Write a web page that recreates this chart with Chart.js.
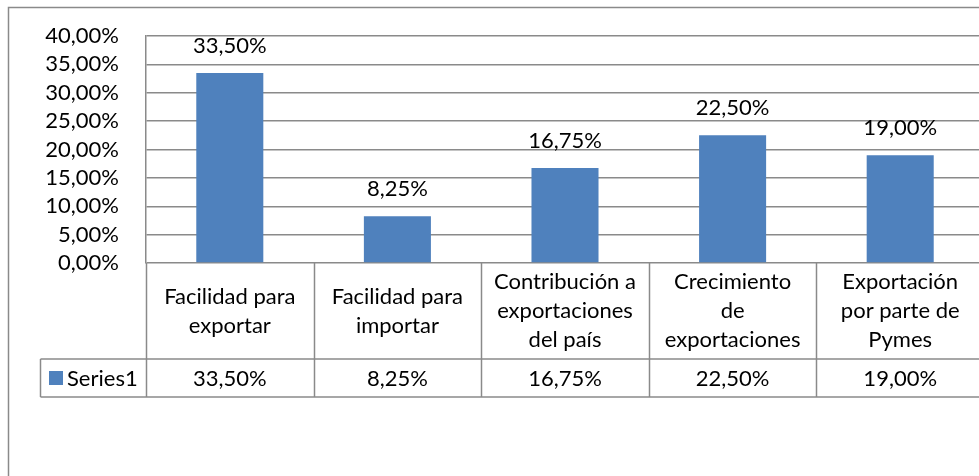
<!DOCTYPE html>
<html>
<head>
<meta charset="utf-8">
<script src="https://cdn.jsdelivr.net/npm/chart.js@4/dist/chart.umd.min.js"></script>
<style>
  html, body { margin: 0; padding: 0; background: #fff; overflow: hidden; width: 979px; height: 476px; }
  #wrap { width: 1000px; height: 476px; }
</style>
</head>
<body>
<div id="wrap"><canvas id="c" width="1000" height="476"></canvas></div>
<script>
const categories = [
  ["Facilidad para", "exportar"],
  ["Facilidad para", "importar"],
  ["Contribución a", "exportaciones", "del país"],
  ["Crecimiento", "de", "exportaciones"],
  ["Exportación", "por parte de", "Pymes"]
];
const seriesName = "Series1";
const series1 = [33.50, 8.25, 16.75, 22.50, 19.00];
const yTicks = [0, 5, 10, 15, 20, 25, 30, 35, 40];

const FONT = "Lato, 'Open Sans', sans-serif";
const FSIZE = 22;
const LINE = "#8a8a8a";
const BAR = "#4F81BD";
const fmt = v => v.toFixed(2).replace('.', ',') + '%';

const tablePlugin = {
  id: 'tablePlugin',
  afterDraw(chart) {
    const ctx = chart.ctx;
    const xs = chart.scales.x;
    const area = chart.chartArea;
    const n = categories.length;
    const step = (area.right - area.left) / n;
    const top = area.bottom;
    const headBottom = top + 96;
    const rowBottom = headBottom + 38;
    const legLeft = 40.5;
    ctx.save();
    ctx.strokeStyle = LINE;
    ctx.lineWidth = 1.5;
    ctx.beginPath();
    ctx.moveTo(8.5, 480); ctx.lineTo(8.5, 7.5); ctx.lineTo(1000, 7.5);
    ctx.stroke();
    ctx.beginPath();
    ctx.moveTo(legLeft, headBottom); ctx.lineTo(area.right + 20, headBottom);
    ctx.moveTo(legLeft, rowBottom); ctx.lineTo(area.right + 20, rowBottom);
    ctx.moveTo(legLeft, headBottom); ctx.lineTo(legLeft, rowBottom);
    for (let i = 0; i <= n; i++) {
      const x = Math.round(area.left + i * step) + 0.5;
      ctx.moveTo(x, top); ctx.lineTo(x, rowBottom);
    }
    ctx.stroke();
    ctx.fillStyle = '#000';
    ctx.font = FSIZE + 'px ' + FONT;
    ctx.textAlign = 'center';
    ctx.textBaseline = 'middle';
    const lh = 29;
    const headMid = (top + headBottom) / 2;
    categories.forEach((lines, i) => {
      const cx = xs.getPixelForValue(i);
      const y0 = headMid - (lines.length - 1) * lh / 2;
      lines.forEach((t, k) => ctx.fillText(t, cx, y0 + k * lh));
      ctx.fillText(fmt(series1[i]), cx, (headBottom + rowBottom) / 2 + 1);
    });
    ctx.fillStyle = BAR;
    ctx.fillRect(49, 371, 14, 14);
    ctx.fillStyle = '#000';
    ctx.textAlign = 'left';
    ctx.fillText(seriesName, 67, (headBottom + rowBottom) / 2 + 1);
    ctx.textAlign = 'center';
    const meta = chart.getDatasetMeta(0);
    meta.data.forEach((bar, i) => {
      ctx.fillText(fmt(series1[i]), bar.x, bar.y - 27);
    });
    ctx.restore();
  }
};

new Chart(document.getElementById('c'), {
  type: 'bar',
  data: {
    labels: categories,
    datasets: [{
      label: seriesName,
      data: series1,
      backgroundColor: BAR,
      borderWidth: 0,
      barPercentage: 0.4,
      categoryPercentage: 1.0
    }]
  },
  options: {
    responsive: false,
    devicePixelRatio: 1,
    animation: false,
    layout: { padding: { top: 36, right: 16, bottom: 213, left: 0 } },
    plugins: { legend: { display: false }, tooltip: { enabled: false } },
    scales: {
      x: { display: false },
      y: {
        min: 0, max: 40,
        afterFit: s => { s.width = 146; s.paddingTop = 0; s.paddingBottom = 0; },
        afterBuildTicks: s => { s.ticks = yTicks.map(v => ({ value: v })); },
        ticks: {
          autoSkip: false,
          padding: 27,
          color: '#000',
          font: { family: FONT, size: FSIZE },
          callback: v => fmt(v)
        },
        grid: { color: LINE, lineWidth: 1.5, drawTicks: false },
        border: { display: true, color: LINE, width: 1.5 }
      }
    }
  },
  plugins: [tablePlugin]
});
</script>
</body>
</html>
